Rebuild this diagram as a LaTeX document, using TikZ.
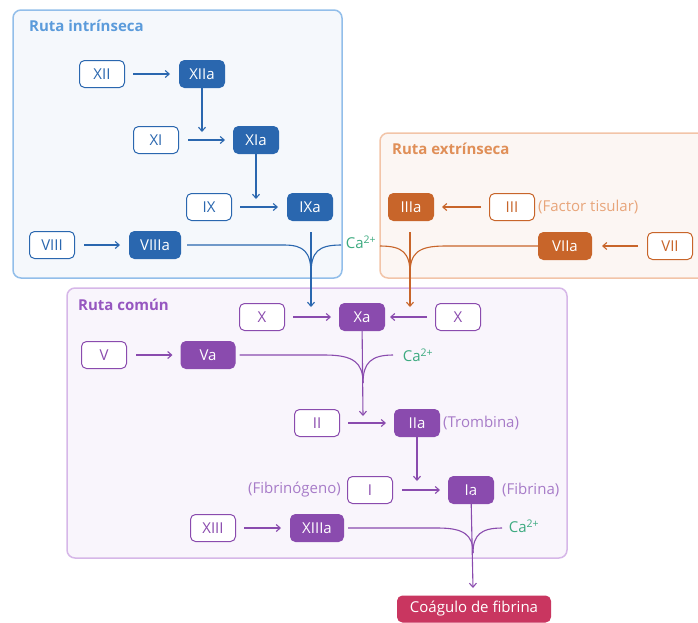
\documentclass[tikz,border=0pt]{standalone}
\usepackage{fontspec}
\setmainfont{Open Sans}
\usetikzlibrary{arrows.meta}
\definecolor{bdark}{HTML}{2A67AF}
\definecolor{bpan}{HTML}{F5F8FC}
\definecolor{bpanl}{HTML}{92BEEA}
\definecolor{btit}{HTML}{5B9BDB}
\definecolor{odark}{HTML}{C8652A}
\definecolor{opan}{HTML}{FCF6F3}
\definecolor{opanl}{HTML}{F2C4A8}
\definecolor{otit}{HTML}{E08F58}
\definecolor{olight}{HTML}{E8A57A}
\definecolor{pdark}{HTML}{8A4BAE}
\definecolor{ppan}{HTML}{F9F5FC}
\definecolor{ppanl}{HTML}{D6B7E8}
\definecolor{ptit}{HTML}{9656C0}
\definecolor{plight}{HTML}{A77BC8}
\definecolor{cagreen}{HTML}{3DAA80}
\definecolor{clot}{HTML}{C93660}
\tikzset{
  x=1pt, y=-1pt,
  panel/.style={rounded corners=8pt, line width=1.5pt},
  tbox/.style={rounded corners=5pt, minimum width=45pt, minimum height=27pt, inner sep=0pt, line width=1pt, font=\fontsize{15}{17}\selectfont},
  obox/.style={tbox, draw=#1, fill=white, text=#1},
  fbox/.style={tbox, draw=#1, fill=#1, text=white},
  arr/.style={-{Straight Barb[length=4pt,width=7pt]}, line width=1.1pt},
  ln/.style={line width=1.1pt},
  title/.style={anchor=base west, font=\fontsize{15}{17}\selectfont\bfseries, inner sep=0pt},
  note/.style={font=\fontsize{15}{17}\selectfont, inner sep=0pt},
}
\begin{document}
\begin{tikzpicture}
\useasboundingbox (0,0) rectangle (698,622);
% panels
\draw[panel, draw=bpanl, fill=bpan] (13,10) rectangle (342,278);
\draw[panel, draw=opanl, fill=opan] (380,133) rectangle (710,278);
\draw[panel, draw=ppanl, fill=ppan] (67,288) rectangle (567,558);
\node[title, text=btit] (t1) at (29,31) {Ruta intrínseca};
\node[title, text=otit] (t2) at (392,154) {Ruta extrínseca};
\node[title, text=ptit] (t3) at (78,310) {Ruta común};

% intrinsic
\node[obox=bdark] (XII) at (102,74) {XII};
\node[fbox=bdark] (XIIa) at (202,74) {XIIa};
\node[obox=bdark] (XI) at (156,140) {XI};
\node[fbox=bdark] (XIa) at (256,140) {XIa};
\node[obox=bdark] (IX) at (209,207) {IX};
\node[fbox=bdark] (IXa) at (310,207) {IXa};
\node[obox=bdark] (VIII) at (52,245) {VIII};
\node[fbox=bdark, minimum width=51pt] (VIIIa) at (155,245) {VIIIa};
\draw[arr, bdark] ([xshift=8pt]XII.east) -- ([xshift=-9pt]XIIa.west);
\draw[arr, bdark] ([yshift=7pt]XIIa.south) -- (202,132);
\draw[arr, bdark] ([xshift=9pt]XI.east) -- ([xshift=-8pt]XIa.west);
\draw[arr, bdark] ([yshift=8pt]XIa.south) -- (256,199);
\draw[arr, bdark] ([xshift=8pt]IX.east) -- ([xshift=-9pt]IXa.west);
\draw[arr, bdark] ([xshift=9pt]VIII.east) -- ([xshift=-9pt]VIIIa.west);
\coordinate (bj) at (311,274);
\coordinate (bca) at (341,245);
\draw[ln, bdark] ([xshift=6pt]VIIIa.east) -- (284,245) .. controls (304,245) and (311,252) .. (bj);
\draw[ln, bdark] (bca) .. controls (318,245) and (311,252) .. (bj);
\draw[arr, bdark] (311,232) -- (311,307);

% extrinsic
\node[fbox=odark] (IIIa) at (411,207) {IIIa};
\node[obox=odark] (III) at (512,207) {III};
\node[note, text=olight, anchor=west] (ft) at (538,207) {(Factor tisular)};
\node[fbox=odark, minimum width=53pt] (VIIa) at (565,246) {VIIa};
\node[obox=odark] (VII) at (670,246) {VII};
\draw[arr, odark] ([xshift=-8pt]III.west) -- ([xshift=8pt]IIIa.east);
\draw[arr, odark] ([xshift=-9pt]VII.west) -- ([xshift=10pt]VIIa.east);
\coordinate (oj) at (410,274);
\coordinate (oca) at (380,246);
\draw[ln, odark] (VIIa.west) -- (445,246) .. controls (418,246) and (410,253) .. (oj);
\draw[ln, odark] (oca) .. controls (403,246) and (410,253) .. (oj);
\draw[arr, odark] (410,232) -- (410,307);
\node[note, text=cagreen] (ca1) at (361,242) {Ca\textsuperscript{2+}};

% common
\node[obox=pdark] (X1) at (262,317) {X};
\node[fbox=pdark] (Xa) at (362,317) {Xa};
\node[obox=pdark] (X2) at (458,317) {X};
\node[obox=pdark] (V) at (104,355) {V};
\node[fbox=pdark, minimum width=54pt] (Va) at (208,355) {Va};
\node[obox=pdark] (II) at (317,423) {II};
\node[fbox=pdark] (IIa) at (417,423) {IIa};
\node[note, text=plight, anchor=west] (tr) at (443,423) {(Trombina)};
\node[obox=pdark] (I) at (370,490) {I};
\node[note, text=plight, anchor=east] (fg) at (341,490) {(Fibrinógeno)};
\node[fbox=pdark] (Ia) at (471,490) {Ia};
\node[note, text=plight, anchor=west] (fb) at (502,490) {(Fibrina)};
\node[obox=pdark] (XIII) at (213,528) {XIII};
\node[fbox=pdark, minimum width=53pt] (XIIIa) at (317,528) {XIIIa};
\node[tbox, fill=clot, draw=clot, text=white, minimum width=153pt, minimum height=26pt] (clotn) at (474,609) {Coágulo de fibrina};

\draw[arr, pdark] ([xshift=8pt]X1.east) -- ([xshift=-8pt]Xa.west);
\draw[arr, pdark] ([xshift=-8pt]X2.west) -- ([xshift=5pt]Xa.east);
\draw[arr, pdark] ([xshift=9pt]V.east) -- ([xshift=-8pt]Va.west);
\draw[arr, pdark] ([xshift=8pt]II.east) -- ([xshift=-8pt]IIa.west);
\draw[arr, pdark] ([xshift=9pt]I.east) -- ([xshift=-8pt]Ia.west);
\draw[arr, pdark] ([xshift=8pt]XIII.east) -- ([xshift=-9pt]XIIIa.west);
\draw[arr, pdark] ([yshift=7pt]IIa.south) -- (417,481);

\coordinate (pj1) at (363,383);
\coordinate (pca1) at (393,355);
\draw[ln, pdark] ([xshift=4pt]Va.east) -- (325,355) .. controls (354,355) and (363,363) .. (pj1);
\draw[ln, pdark] (pca1) .. controls (371,355) and (363,363) .. (pj1);
\draw[arr, pdark] ([yshift=10pt]Xa.south) -- (363,416);
\node[note, text=cagreen] (ca2) at (418,355) {Ca\textsuperscript{2+}};

\coordinate (pj2) at (473,553);
\coordinate (pca2) at (502,528);
\draw[ln, pdark] ([xshift=4pt]XIIIa.east) -- (438,528) .. controls (464,528) and (473,535) .. (pj2);
\draw[ln, pdark] (pca2) .. controls (481,528) and (473,535) .. (pj2);
\draw[arr, pdark] ([yshift=10pt]Ia.south) -- (473,588);
\node[note, text=cagreen] (ca3) at (524,526) {Ca\textsuperscript{2+}};
\end{tikzpicture}
\end{document}
